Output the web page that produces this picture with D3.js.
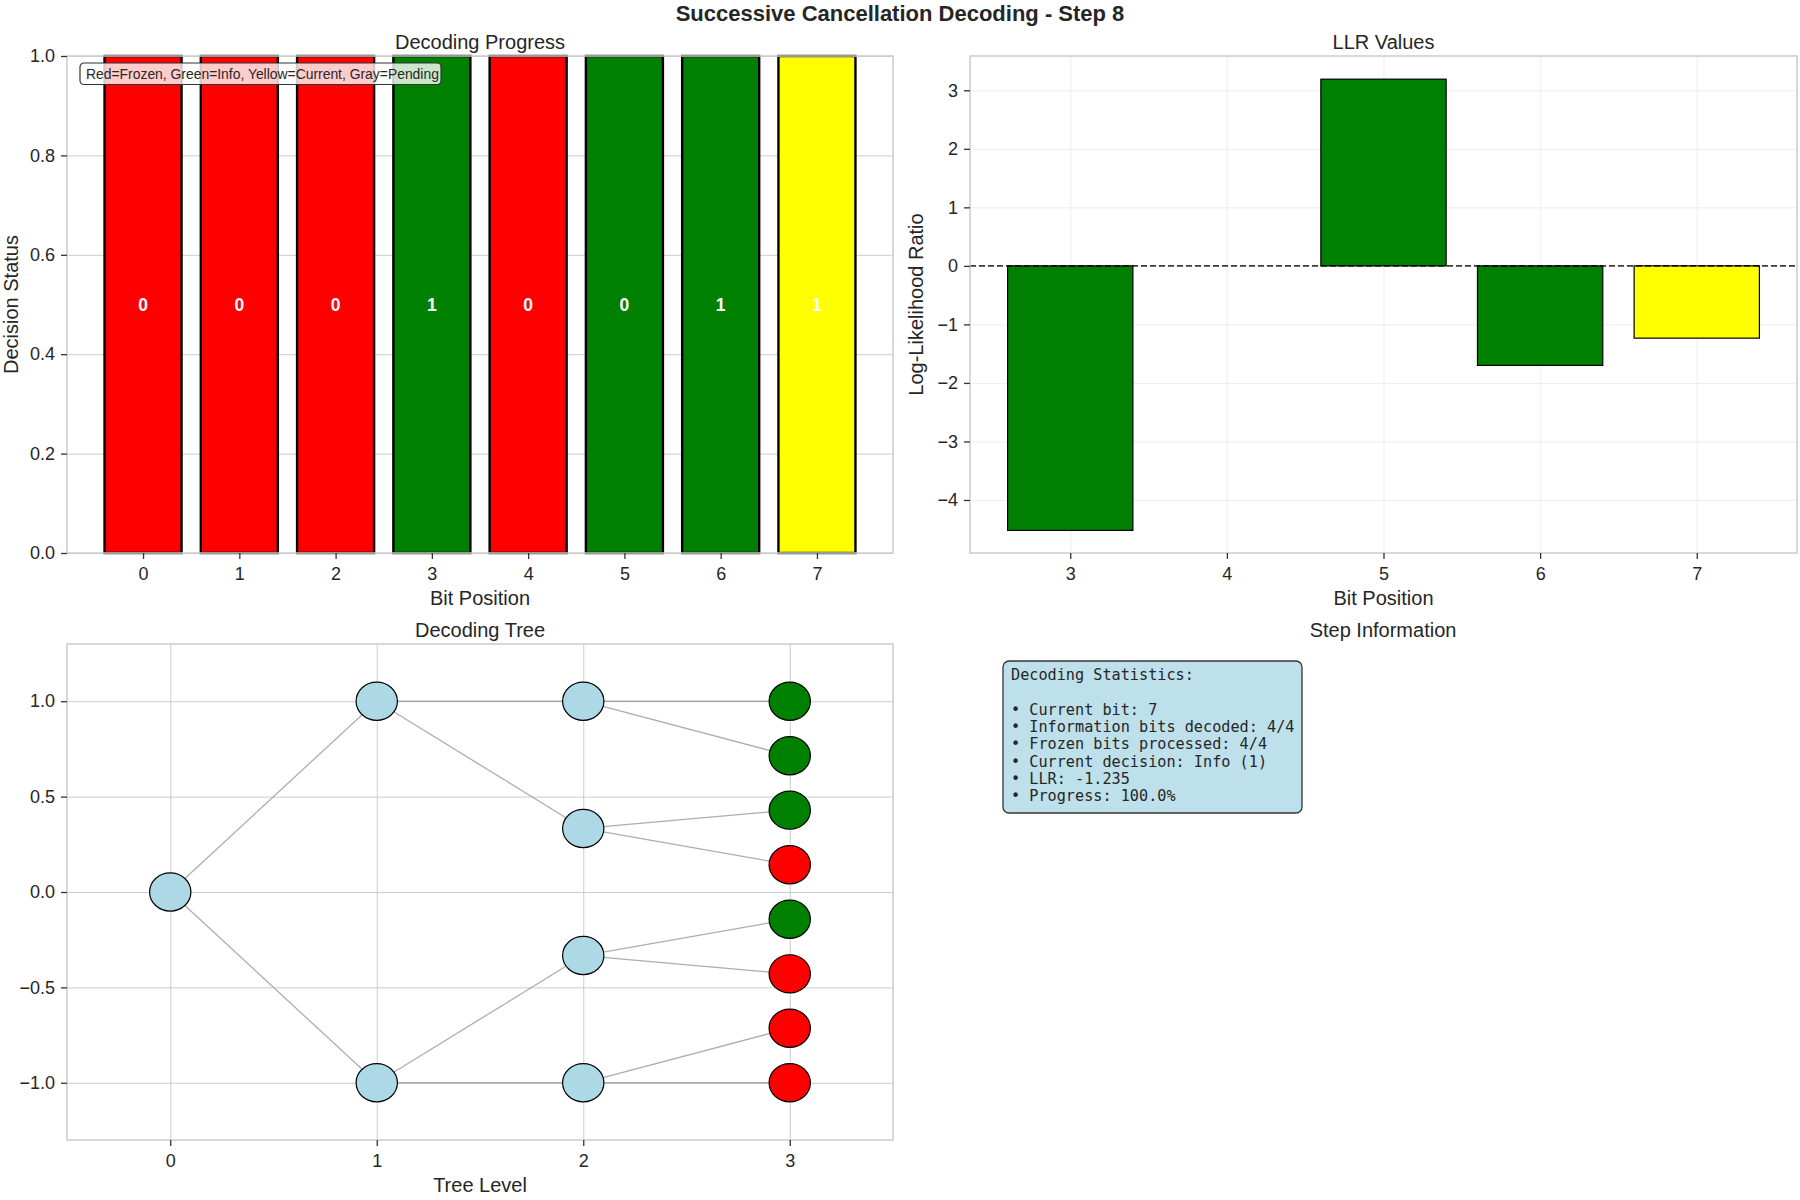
<!DOCTYPE html>
<html>
<head>
<meta charset="utf-8">
<script src="https://cdn.jsdelivr.net/npm/d3@7"></script>
<style>
  body { margin: 0; background: #fff; }
  svg { font-family: "Liberation Sans", Arial, sans-serif; }
</style>
</head>
<body>
<svg id="chart" width="1800" height="1200"></svg>
<script>
// ---- data ----
const bitPositions = [0, 1, 2, 3, 4, 5, 6, 7];
const bitDecisions = [0, 0, 0, 1, 0, 0, 1, 1];
const bitColors = ['red', 'red', 'red', 'green', 'red', 'green', 'green', 'yellow'];

const llrPositions = [3, 5, 6, 7];
const llrValues = [-4.52, 3.19, -1.70, -1.235];
const llrColors = ['green', 'green', 'green', 'yellow'];
const llrTicks = [-4, -3, -2, -1, 0, 1, 2, 3];

// node heights per tree level
const treeLevels = [
    [0],
    [1, -1],
    [1, 0.333, -0.333, -1],
    [1, 0.714, 0.429, 0.143, -0.143, -0.429, -0.714, -1]
];
const leafColors = ['green', 'green', 'green', 'red', 'green', 'red', 'red', 'red'];
const treeYTicks = [-1.0, -0.5, 0.0, 0.5, 1.0];

const statsLines = [
    'Decoding Statistics:',
    '',
    '• Current bit: 7',
    '• Information bits decoded: 4/4',
    '• Frozen bits processed: 4/4',
    '• Current decision: Info (1)',
    '• LLR: -1.235',
    '• Progress: 100.0%'
];

const legendText = 'Red=Frozen, Green=Info, Yellow=Current, Gray=Pending';

// ---- helpers ----
const svg = d3.select('#chart');
const textColor = '#262626';
const spineColor = '#cccccc';

svg.append('text')
    .text('Successive Cancellation Decoding - Step 8')
    .attr('x', 900).attr('y', 21)
    .attr('text-anchor', 'middle')
    .style('font-size', '22px').style('font-weight', 'bold')
    .style('fill', textColor);

function panel(box, xScale, yScale, opts) {
    const g = svg.append('g').attr('transform', `translate(${box.x},${box.y})`);
    const w = box.w, h = box.h;

    // grid
    const gridX = g.append('g').attr('transform', `translate(0,${h})`)
        .call(d3.axisBottom(xScale).tickValues(opts.xTicks).tickSize(-h).tickFormat(''));
    const gridY = g.append('g')
        .call(d3.axisLeft(yScale).tickValues(opts.yTicks).tickSize(-w).tickFormat(''));
    [gridX, gridY].forEach(a => {
        a.select('.domain').remove();
        a.selectAll('line').style('stroke', spineColor).style('stroke-width', 1)
            .style('stroke-opacity', opts.gridAlpha);
    });

    const plot = g.append('g');

    // spines + ticks drawn later, on top
    const front = function () {
        g.append('rect').attr('width', w).attr('height', h)
            .style('fill', 'none').style('stroke', spineColor).style('stroke-width', 1.5);

        const ax = g.append('g').attr('transform', `translate(0,${h})`)
            .call(d3.axisBottom(xScale).tickValues(opts.xTicks).tickSize(6).tickPadding(6)
                .tickFormat(opts.xFormat || d3.format('d')));
        const ay = g.append('g')
            .call(d3.axisLeft(yScale).tickValues(opts.yTicks).tickSize(6).tickPadding(6)
                .tickFormat(opts.yFormat));
        [ax, ay].forEach(a => {
            a.select('.domain').remove();
            a.selectAll('line').style('stroke', '#333').style('stroke-width', 1.3);
            a.selectAll('text').style('font-size', '18px').style('fill', textColor)
                .style('font-family', '"Liberation Sans", Arial, sans-serif');
        });
        ax.selectAll('text').attr('dy', '0.84em');

        if (opts.xLabel) {
            g.append('text').text(opts.xLabel)
                .attr('x', w / 2).attr('y', h + 52)
                .attr('text-anchor', 'middle')
                .style('font-size', '20px').style('fill', textColor);
        }
        if (opts.yLabel) {
            g.append('text').text(opts.yLabel)
                .attr('transform', `translate(${opts.yLabelX},${h / 2}) rotate(-90)`)
                .attr('text-anchor', 'middle')
                .style('font-size', '20px').style('fill', textColor);
        }
    };

    g.append('text').text(opts.title)
        .attr('x', w / 2).attr('y', -7)
        .attr('text-anchor', 'middle')
        .style('font-size', '20px').style('fill', textColor);

    return {g, plot, front};
}

// ---- panel 1: decoding progress ----
const b1 = {x: 67, y: 56, w: 826, h: 497};
const x1 = d3.scaleLinear().domain([-0.79, 7.79]).range([0, b1.w]);
const y1 = d3.scaleLinear().domain([0, 1]).range([b1.h, 0]);
const p1 = panel(b1, x1, y1, {
    xTicks: bitPositions, yTicks: [0, 0.2, 0.4, 0.6, 0.8, 1.0], gridAlpha: 1,
    yFormat: d3.format('.1f'), title: 'Decoding Progress',
    xLabel: 'Bit Position', yLabel: 'Decision Status', yLabelX: -49
});
p1.plot.selectAll('rect.bit').data(bitPositions).join('rect')
    .attr('x', d => x1(d - 0.4))
    .attr('width', x1(0.8) - x1(0))
    .attr('y', y1(1))
    .attr('height', y1(0) - y1(1))
    .style('fill', (d, i) => bitColors[i])
    .style('stroke', '#000').style('stroke-width', 2.4);
p1.plot.selectAll('text.bit').data(bitPositions).join('text')
    .text((d, i) => bitDecisions[i])
    .attr('x', d => x1(d)).attr('y', y1(0.5))
    .attr('dy', '0.35em').attr('text-anchor', 'middle')
    .style('fill', '#fff').style('font-weight', 'bold').style('font-size', '17.5px');
p1.front();
const legendG = p1.g.append('g');
legendG.append('rect')
    .attr('x', 13).attr('y', 7).attr('width', 361).attr('height', 21.5)
    .attr('rx', 4)
    .style('fill', '#fff').style('fill-opacity', 0.8)
    .style('stroke', '#333').style('stroke-width', 1.2);
legendG.append('text').text(legendText)
    .attr('x', 19).attr('y', 22.5)
    .style('font-size', '13.9px').style('fill', textColor);

// ---- panel 2: LLR values ----
const b2 = {x: 970, y: 56, w: 827, h: 497};
const x2 = d3.scaleLinear().domain([2.36, 7.64]).range([0, b2.w]);
const y2 = d3.scaleLinear().domain([-4.906, 3.586]).range([b2.h, 0]);
const p2 = panel(b2, x2, y2, {
    xTicks: [3, 4, 5, 6, 7], yTicks: llrTicks, gridAlpha: 0.35,
    yFormat: d3.format('d'), title: 'LLR Values',
    xLabel: 'Bit Position', yLabel: 'Log-Likelihood Ratio', yLabelX: -47
});
p2.plot.selectAll('rect.llr').data(llrPositions).join('rect')
    .attr('x', d => x2(d - 0.4))
    .attr('width', x2(0.8) - x2(0))
    .attr('y', (d, i) => y2(Math.max(0, llrValues[i])))
    .attr('height', (d, i) => Math.abs(y2(llrValues[i]) - y2(0)))
    .style('fill', (d, i) => llrColors[i])
    .style('stroke', '#000').style('stroke-width', 1.2);
p2.plot.append('line')
    .attr('x1', 0).attr('x2', b2.w)
    .attr('y1', y2(0)).attr('y2', y2(0))
    .style('stroke', '#000').style('stroke-opacity', 0.75)
    .style('stroke-width', 1.6).style('stroke-dasharray', '6,3');
p2.front();

// ---- panel 3: decoding tree ----
const b3 = {x: 67, y: 644, w: 826, h: 496};
const x3 = d3.scaleLinear().domain([-0.5, 3.5]).range([0, b3.w]);
const y3 = d3.scaleLinear().domain([-1.3, 1.3]).range([b3.h, 0]);
const p3 = panel(b3, x3, y3, {
    xTicks: [0, 1, 2, 3], yTicks: treeYTicks, gridAlpha: 1,
    yFormat: d3.format('.1f'), title: 'Decoding Tree',
    xLabel: 'Tree Level'
});
const treeEdges = [];
treeLevels.forEach((ys, lvl) => {
    if (lvl === treeLevels.length - 1) return;
    ys.forEach((y, i) => {
        [2 * i, 2 * i + 1].forEach(c => {
            treeEdges.push({x1: lvl, y1: y, x2: lvl + 1, y2: treeLevels[lvl + 1][c]});
        });
    });
});
p3.plot.selectAll('line.edge').data(treeEdges).join('line')
    .attr('x1', d => x3(d.x1)).attr('y1', d => y3(d.y1))
    .attr('x2', d => x3(d.x2)).attr('y2', d => y3(d.y2))
    .style('stroke', '#999').style('stroke-opacity', 0.8).style('stroke-width', 1.3);
const treeNodes = [];
treeLevels.forEach((ys, lvl) => ys.forEach((y, i) => {
    const last = lvl === treeLevels.length - 1;
    treeNodes.push({level: lvl, y: y, color: last ? leafColors[i] : 'lightblue'});
}));
const nodeR = 0.1;
p3.plot.selectAll('ellipse.node').data(treeNodes).join('ellipse')
    .attr('cx', d => x3(d.level)).attr('cy', d => y3(d.y))
    .attr('rx', x3(nodeR) - x3(0)).attr('ry', y3(0) - y3(nodeR))
    .style('fill', d => d.color)
    .style('stroke', '#000').style('stroke-width', 1.2);
p3.front();

// ---- panel 4: step information ----
svg.append('text').text('Step Information')
    .attr('x', 1383).attr('y', 637)
    .attr('text-anchor', 'middle')
    .style('font-size', '20px').style('fill', textColor);
const info = svg.append('g');
info.append('rect')
    .attr('x', 1003).attr('y', 661).attr('width', 299).attr('height', 152)
    .attr('rx', 6)
    .style('fill', 'lightblue').style('fill-opacity', 0.8)
    .style('stroke', '#333').style('stroke-width', 1.3);
info.append('g').selectAll('text').data(statsLines).join('text')
    .text(d => d)
    .attr('x', 1011)
    .attr('y', (d, i) => 680 + i * 17.3)
    .style('font-family', '"DejaVu Sans Mono", monospace')
    .style('font-size', '15.2px').style('fill', textColor)
    .attr('xml:space', 'preserve');
</script>
</body>
</html>
